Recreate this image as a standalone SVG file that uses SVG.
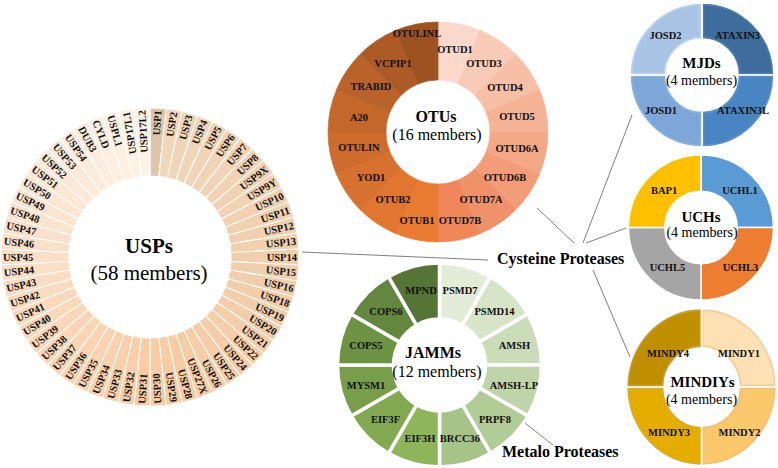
<svg xmlns="http://www.w3.org/2000/svg" xmlns:xlink="http://www.w3.org/1999/xlink" width="778" height="468" viewBox="0 0 778 468">
<style>
.lb{font-family:"Liberation Serif","Times New Roman",serif;font-weight:bold;font-size:10.5px;fill:#111}
.ur{text-anchor:end;dominant-baseline:central}
.ul{text-anchor:start;dominant-baseline:central}
.c{text-anchor:middle;dominant-baseline:central}
.tt{font-family:"Liberation Serif","Times New Roman",serif;font-weight:bold;fill:#000;text-anchor:middle}
.ts{font-family:"Liberation Serif","Times New Roman",serif;fill:#000;text-anchor:middle}
.pl{font-family:"Liberation Serif","Times New Roman",serif;font-weight:bold;font-size:16px;fill:#000}
.cn{stroke:#7f7f7f;stroke-width:1;fill:none}
.uw{stroke:#fff;stroke-width:1}
.jw{stroke:#fff;stroke-width:3.5}
.qw{stroke:#fff;stroke-width:1.5}
</style>
<defs>
<path id="uwd" d="M150,108 A149,149 0 0 1 166.11,108.873 L158.758,176.475 A81,81 0 0 0 150,176 Z"/>
<path id="owd" d="M0,-110 A110,110 0 0 1 42.095,-101.627 L19.899,-48.042 A52,52 0 0 0 0,-52 Z"/>
<path id="jwd" d="M0,-102 A102,102 0 0 1 51,-88.335 L23,-39.837 A46,46 0 0 0 0,-46 Z"/>
<path id="qo" d="M0,-72 A72,72 0 0 1 72,0 L36,0 A36,36 0 0 0 0,-36 Z"/>
<path id="qi" d="M2.2,-69.6 A69.6,69.6 0 0 1 69.6,-2.2 L38.6,-2.2 A38.6,38.6 0 0 0 2.2,-38.6 Z"/>
</defs>

<g id="connectors">
<line class="cn" x1="302" y1="252" x2="488" y2="260"/>
<line class="cn" x1="537" y1="208" x2="574" y2="243"/>
<line class="cn" x1="583" y1="243" x2="632" y2="115"/>
<line class="cn" x1="586" y1="243" x2="626" y2="228"/>
<line class="cn" x1="593" y1="270" x2="630" y2="357"/>
<line class="cn" x1="525" y1="423" x2="553" y2="445"/>
</g>

<g id="usps">
<g class="uw">
<use xlink:href="#uwd" fill="#dcc5a8"/>
<use xlink:href="#uwd" fill="#f1d6ba" transform="rotate(6.207 150 257)"/>
<use xlink:href="#uwd" fill="#f1d5b9" transform="rotate(12.414 150 257)"/>
<use xlink:href="#uwd" fill="#f1d5b8" transform="rotate(18.621 150 257)"/>
<use xlink:href="#uwd" fill="#f1d4b7" transform="rotate(24.828 150 257)"/>
<use xlink:href="#uwd" fill="#f1d4b6" transform="rotate(31.034 150 257)"/>
<use xlink:href="#uwd" fill="#f1d3b5" transform="rotate(37.241 150 257)"/>
<use xlink:href="#uwd" fill="#f1d3b4" transform="rotate(43.448 150 257)"/>
<use xlink:href="#uwd" fill="#f1d2b3" transform="rotate(49.655 150 257)"/>
<use xlink:href="#uwd" fill="#f1d2b2" transform="rotate(55.862 150 257)"/>
<use xlink:href="#uwd" fill="#f1d1b1" transform="rotate(62.069 150 257)"/>
<use xlink:href="#uwd" fill="#f1d1b0" transform="rotate(68.276 150 257)"/>
<use xlink:href="#uwd" fill="#f1d0af" transform="rotate(74.483 150 257)"/>
<use xlink:href="#uwd" fill="#f1d0ae" transform="rotate(80.690 150 257)"/>
<use xlink:href="#uwd" fill="#f1cfad" transform="rotate(86.897 150 257)"/>
<use xlink:href="#uwd" fill="#f2cfac" transform="rotate(93.103 150 257)"/>
<use xlink:href="#uwd" fill="#f2cfac" transform="rotate(99.310 150 257)"/>
<use xlink:href="#uwd" fill="#f3ceab" transform="rotate(105.517 150 257)"/>
<use xlink:href="#uwd" fill="#f3ceaa" transform="rotate(111.724 150 257)"/>
<use xlink:href="#uwd" fill="#f4ceaa" transform="rotate(117.931 150 257)"/>
<use xlink:href="#uwd" fill="#f4cea9" transform="rotate(124.138 150 257)"/>
<use xlink:href="#uwd" fill="#f5cea9" transform="rotate(130.345 150 257)"/>
<use xlink:href="#uwd" fill="#f5cda8" transform="rotate(136.552 150 257)"/>
<use xlink:href="#uwd" fill="#f6cda7" transform="rotate(142.759 150 257)"/>
<use xlink:href="#uwd" fill="#f6cda7" transform="rotate(148.966 150 257)"/>
<use xlink:href="#uwd" fill="#f7cda6" transform="rotate(155.172 150 257)"/>
<use xlink:href="#uwd" fill="#f7cca5" transform="rotate(161.379 150 257)"/>
<use xlink:href="#uwd" fill="#f8cca5" transform="rotate(167.586 150 257)"/>
<use xlink:href="#uwd" fill="#f8cca4" transform="rotate(173.793 150 257)"/>
<use xlink:href="#uwd" fill="#f8cda6" transform="rotate(180 150 257)"/>
<use xlink:href="#uwd" fill="#f8cfa9" transform="rotate(186.207 150 257)"/>
<use xlink:href="#uwd" fill="#f9d0ab" transform="rotate(192.414 150 257)"/>
<use xlink:href="#uwd" fill="#f9d1ad" transform="rotate(198.621 150 257)"/>
<use xlink:href="#uwd" fill="#f9d2b0" transform="rotate(204.828 150 257)"/>
<use xlink:href="#uwd" fill="#f9d4b2" transform="rotate(211.034 150 257)"/>
<use xlink:href="#uwd" fill="#f9d5b4" transform="rotate(217.241 150 257)"/>
<use xlink:href="#uwd" fill="#fad6b7" transform="rotate(223.448 150 257)"/>
<use xlink:href="#uwd" fill="#fad7b9" transform="rotate(229.655 150 257)"/>
<use xlink:href="#uwd" fill="#fad9bb" transform="rotate(235.862 150 257)"/>
<use xlink:href="#uwd" fill="#fadabd" transform="rotate(242.069 150 257)"/>
<use xlink:href="#uwd" fill="#fadbc0" transform="rotate(248.276 150 257)"/>
<use xlink:href="#uwd" fill="#fadcc2" transform="rotate(254.483 150 257)"/>
<use xlink:href="#uwd" fill="#fbdec4" transform="rotate(260.690 150 257)"/>
<use xlink:href="#uwd" fill="#fbdfc7" transform="rotate(266.897 150 257)"/>
<use xlink:href="#uwd" fill="#fbe0c9" transform="rotate(273.103 150 257)"/>
<use xlink:href="#uwd" fill="#fbe1cb" transform="rotate(279.310 150 257)"/>
<use xlink:href="#uwd" fill="#fbe3cd" transform="rotate(285.517 150 257)"/>
<use xlink:href="#uwd" fill="#fbe4d0" transform="rotate(291.724 150 257)"/>
<use xlink:href="#uwd" fill="#fce6d2" transform="rotate(297.931 150 257)"/>
<use xlink:href="#uwd" fill="#fce7d4" transform="rotate(304.138 150 257)"/>
<use xlink:href="#uwd" fill="#fce8d6" transform="rotate(310.345 150 257)"/>
<use xlink:href="#uwd" fill="#fcead8" transform="rotate(316.552 150 257)"/>
<use xlink:href="#uwd" fill="#fcebdb" transform="rotate(322.759 150 257)"/>
<use xlink:href="#uwd" fill="#fcecdd" transform="rotate(328.966 150 257)"/>
<use xlink:href="#uwd" fill="#fdeedf" transform="rotate(335.172 150 257)"/>
<use xlink:href="#uwd" fill="#fdefe1" transform="rotate(341.379 150 257)"/>
<use xlink:href="#uwd" fill="#fdf1e4" transform="rotate(347.586 150 257)"/>
<use xlink:href="#uwd" fill="#fdf2e6" transform="rotate(353.793 150 257)"/>
</g>
<g class="lb">
<text class="ur" x="297" y="257" transform="rotate(-86.90 150 257)">USP1</text>
<text class="ur" x="297" y="257" transform="rotate(-80.69 150 257)">USP2</text>
<text class="ur" x="297" y="257" transform="rotate(-74.48 150 257)">USP3</text>
<text class="ur" x="297" y="257" transform="rotate(-68.28 150 257)">USP4</text>
<text class="ur" x="297" y="257" transform="rotate(-62.07 150 257)">USP5</text>
<text class="ur" x="297" y="257" transform="rotate(-55.86 150 257)">USP6</text>
<text class="ur" x="297" y="257" transform="rotate(-49.66 150 257)">USP7</text>
<text class="ur" x="297" y="257" transform="rotate(-43.45 150 257)">USP8</text>
<text class="ur" x="297" y="257" transform="rotate(-37.24 150 257)">USP9X</text>
<text class="ur" x="297" y="257" transform="rotate(-31.03 150 257)">USP9Y</text>
<text class="ur" x="297" y="257" transform="rotate(-24.83 150 257)">USP10</text>
<text class="ur" x="297" y="257" transform="rotate(-18.62 150 257)">USP11</text>
<text class="ur" x="297" y="257" transform="rotate(-12.41 150 257)">USP12</text>
<text class="ur" x="297" y="257" transform="rotate(-6.21 150 257)">USP13</text>
<text class="ur" x="297" y="257">USP14</text>
<text class="ur" x="297" y="257" transform="rotate(6.21 150 257)">USP15</text>
<text class="ur" x="297" y="257" transform="rotate(12.41 150 257)">USP16</text>
<text class="ur" x="297" y="257" transform="rotate(18.62 150 257)">USP18</text>
<text class="ur" x="297" y="257" transform="rotate(24.83 150 257)">USP19</text>
<text class="ur" x="297" y="257" transform="rotate(31.03 150 257)">USP20</text>
<text class="ur" x="297" y="257" transform="rotate(37.24 150 257)">USP21</text>
<text class="ur" x="297" y="257" transform="rotate(43.45 150 257)">USP22</text>
<text class="ur" x="297" y="257" transform="rotate(49.66 150 257)">USP24</text>
<text class="ur" x="297" y="257" transform="rotate(55.86 150 257)">USP25</text>
<text class="ur" x="297" y="257" transform="rotate(62.07 150 257)">USP26</text>
<text class="ur" x="297" y="257" transform="rotate(68.28 150 257)">USP27X</text>
<text class="ur" x="297" y="257" transform="rotate(74.48 150 257)">USP28</text>
<text class="ur" x="297" y="257" transform="rotate(80.69 150 257)">USP29</text>
<text class="ul" x="3" y="257" transform="rotate(-93.10 150 257)">USP30</text>
<text class="ul" x="3" y="257" transform="rotate(-86.90 150 257)">USP31</text>
<text class="ul" x="3" y="257" transform="rotate(-80.69 150 257)">USP32</text>
<text class="ul" x="3" y="257" transform="rotate(-74.48 150 257)">USP33</text>
<text class="ul" x="3" y="257" transform="rotate(-68.28 150 257)">USP34</text>
<text class="ul" x="3" y="257" transform="rotate(-62.07 150 257)">USP35</text>
<text class="ul" x="3" y="257" transform="rotate(-55.86 150 257)">USP36</text>
<text class="ul" x="3" y="257" transform="rotate(-49.66 150 257)">USP37</text>
<text class="ul" x="3" y="257" transform="rotate(-43.45 150 257)">USP38</text>
<text class="ul" x="3" y="257" transform="rotate(-37.24 150 257)">USP39</text>
<text class="ul" x="3" y="257" transform="rotate(-31.03 150 257)">USP40</text>
<text class="ul" x="3" y="257" transform="rotate(-24.83 150 257)">USP41</text>
<text class="ul" x="3" y="257" transform="rotate(-18.62 150 257)">USP42</text>
<text class="ul" x="3" y="257" transform="rotate(-12.41 150 257)">USP43</text>
<text class="ul" x="3" y="257" transform="rotate(-6.21 150 257)">USP44</text>
<text class="ul" x="3" y="257">USP45</text>
<text class="ul" x="3" y="257" transform="rotate(6.21 150 257)">USP46</text>
<text class="ul" x="3" y="257" transform="rotate(12.41 150 257)">USP47</text>
<text class="ul" x="3" y="257" transform="rotate(18.62 150 257)">USP48</text>
<text class="ul" x="3" y="257" transform="rotate(24.83 150 257)">USP49</text>
<text class="ul" x="3" y="257" transform="rotate(31.03 150 257)">USP50</text>
<text class="ul" x="3" y="257" transform="rotate(37.24 150 257)">USP51</text>
<text class="ul" x="3" y="257" transform="rotate(43.45 150 257)">USP52</text>
<text class="ul" x="3" y="257" transform="rotate(49.66 150 257)">USP53</text>
<text class="ul" x="3" y="257" transform="rotate(55.86 150 257)">USP54</text>
<text class="ul" x="3" y="257" transform="rotate(62.07 150 257)">DUB3</text>
<text class="ul" x="3" y="257" transform="rotate(68.28 150 257)">CYLD</text>
<text class="ul" x="3" y="257" transform="rotate(74.48 150 257)">USPL1</text>
<text class="ur" x="297" y="257" transform="rotate(-99.31 150 257)">USP17L1</text>
<text class="ur" x="297" y="257" transform="rotate(-93.10 150 257)">USP17L2</text>
</g>
<text class="tt" x="149" y="253" font-size="21">USPs</text>
<text class="ts" x="149" y="280" font-size="21">(58 members)</text>
</g>

<g id="otus">
<g transform="translate(438,132)" stroke-width="0.6">
<use xlink:href="#owd" fill="#fad8cb" stroke="#fad8cb"/>
<use xlink:href="#owd" fill="#f8cbb8" stroke="#f8cbb8" transform="rotate(22.5)"/>
<use xlink:href="#owd" fill="#f6bfa6" stroke="#f6bfa6" transform="rotate(45)"/>
<use xlink:href="#owd" fill="#f5b396" stroke="#f5b396" transform="rotate(67.5)"/>
<use xlink:href="#owd" fill="#f3a886" stroke="#f3a886" transform="rotate(90)"/>
<use xlink:href="#owd" fill="#f29d77" stroke="#f29d77" transform="rotate(112.5)"/>
<use xlink:href="#owd" fill="#f09269" stroke="#f09269" transform="rotate(135)"/>
<use xlink:href="#owd" fill="#ef875b" stroke="#ef875b" transform="rotate(157.5)"/>
<use xlink:href="#owd" fill="#e97b33" stroke="#e97b33" transform="rotate(180)"/>
<use xlink:href="#owd" fill="#e17631" stroke="#e17631" transform="rotate(202.5)"/>
<use xlink:href="#owd" fill="#d7712f" stroke="#d7712f" transform="rotate(225)"/>
<use xlink:href="#owd" fill="#cd6c2d" stroke="#cd6c2d" transform="rotate(247.5)"/>
<use xlink:href="#owd" fill="#c3672b" stroke="#c3672b" transform="rotate(270)"/>
<use xlink:href="#owd" fill="#b96229" stroke="#b96229" transform="rotate(292.5)"/>
<use xlink:href="#owd" fill="#ad5b26" stroke="#ad5b26" transform="rotate(315)"/>
<use xlink:href="#owd" fill="#9d5222" stroke="#9d5222" transform="rotate(337.5)"/>
</g>
<g class="lb c">
<text x="455" y="49">OTUD1</text>
<text x="484" y="63">OTUD3</text>
<text x="505" y="87">OTUD4</text>
<text x="517" y="116">OTUD5</text>
<text x="517" y="148">OTUD6A</text>
<text x="505" y="177">OTUD6B</text>
<text x="481" y="199">OTUD7A</text>
<text x="460" y="220">OTUD7B</text>
<text x="417" y="220">OTUB1</text>
<text x="393" y="199">OTUB2</text>
<text x="371" y="177">YOD1</text>
<text x="359" y="147">OTULIN</text>
<text x="359" y="117">A20</text>
<text x="371" y="86">TRABID</text>
<text x="393" y="63">VCPIP1</text>
<text x="417" y="33">OTULINL</text>
</g>
<text class="tt" x="436" y="122" font-size="16">OTUs</text>
<text class="ts" x="437" y="140" font-size="16">(16 members)</text>
</g>

<g id="jamms">
<g transform="translate(439.5,365)" class="jw">
<use xlink:href="#jwd" fill="#e3ecd8"/>
<use xlink:href="#jwd" fill="#d7e4c8" transform="rotate(30)"/>
<use xlink:href="#jwd" fill="#cbdcb8" transform="rotate(60)"/>
<use xlink:href="#jwd" fill="#bfd4a8" transform="rotate(90)"/>
<use xlink:href="#jwd" fill="#b2cc98" transform="rotate(120)"/>
<use xlink:href="#jwd" fill="#a6c488" transform="rotate(150)"/>
<use xlink:href="#jwd" fill="#8fb55a" transform="rotate(180)"/>
<use xlink:href="#jwd" fill="#82a951" transform="rotate(210)"/>
<use xlink:href="#jwd" fill="#789e4b" transform="rotate(240)"/>
<use xlink:href="#jwd" fill="#6e9345" transform="rotate(270)"/>
<use xlink:href="#jwd" fill="#64873f" transform="rotate(300)"/>
<use xlink:href="#jwd" fill="#557536" transform="rotate(330)"/>
</g>
<g class="lb c">
<text x="460" y="290">PSMD7</text>
<text x="494.5" y="311">PSMD14</text>
<text x="514.5" y="345">AMSH</text>
<text x="514" y="385">AMSH-LP</text>
<text x="495" y="419">PRPF8</text>
<text x="460" y="438">BRCC36</text>
<text x="420" y="438">EIF3H</text>
<text x="385.5" y="419">EIF3F</text>
<text x="366" y="385">MYSM1</text>
<text x="366" y="345">COPS5</text>
<text x="386" y="311">COPS6</text>
<text x="421" y="290">MPND</text>
</g>
<text class="tt" x="433" y="358" font-size="16">JAMMs</text>
<text class="ts" x="437" y="377" font-size="16">(12 members)</text>
</g>

<g id="mjds">
<g transform="translate(702,75)">
<g class="qw">
<use xlink:href="#qo" fill="#4e7cab"/>
<use xlink:href="#qo" fill="#5a91cb" transform="rotate(90)"/>
<use xlink:href="#qo" fill="#8cb3de" transform="rotate(180)"/>
<use xlink:href="#qo" fill="#bcd1ed" transform="rotate(270)"/>
</g>
<use xlink:href="#qi" fill="#3e6d9d"/>
<use xlink:href="#qi" fill="#4a85c3" transform="rotate(90)"/>
<use xlink:href="#qi" fill="#7ca7d8" transform="rotate(180)"/>
<use xlink:href="#qi" fill="#aac4e6" transform="rotate(270)"/>
</g>
<g class="lb c">
<text x="665.5" y="35">JOSD2</text>
<text x="737.5" y="35">ATAXIN3</text>
<text x="661" y="110">JOSD1</text>
<text x="743" y="110">ATAXIN3L</text>
</g>
<text class="tt" x="701.5" y="68" font-size="15">MJDs</text>
<text class="ts" x="701.5" y="85" font-size="14">(4 members)</text>
</g>

<g id="uchs">
<g transform="translate(701,227.5) scale(1.007)" class="qw">
<use xlink:href="#qo" fill="#5b9bd5"/>
<use xlink:href="#qo" fill="#ed7d31" transform="rotate(90)"/>
<use xlink:href="#qo" fill="#a5a5a5" transform="rotate(180)"/>
<use xlink:href="#qo" fill="#ffc000" transform="rotate(270)"/>
</g>
<g class="lb c">
<text x="664" y="190">BAP1</text>
<text x="740" y="190">UCHL1</text>
<text x="667.5" y="267">UCHL5</text>
<text x="740.5" y="267">UCHL3</text>
</g>
<text class="tt" x="701" y="222" font-size="15">UCHs</text>
<text class="ts" x="702" y="237" font-size="14">(4 members)</text>
</g>

<g id="mindiys">
<g transform="translate(701.5,387) scale(1.04,1.09)">
<g class="qw">
<use xlink:href="#qo" fill="#f1cf9c"/>
<use xlink:href="#qo" fill="#f2c274" transform="rotate(90)"/>
<use xlink:href="#qo" fill="#dbab26" transform="rotate(180)"/>
<use xlink:href="#qo" fill="#c99b2a" transform="rotate(270)"/>
</g>
<use xlink:href="#qi" fill="#fde1b5"/>
<use xlink:href="#qi" fill="#fbc86c" transform="rotate(90)"/>
<use xlink:href="#qi" fill="#e5ad00" transform="rotate(180)"/>
<use xlink:href="#qi" fill="#bf8f00" transform="rotate(270)"/>
</g>
<g class="lb c">
<text x="668" y="353">MINDY4</text>
<text x="739" y="353">MINDY1</text>
<text x="669" y="432">MINDY3</text>
<text x="739.5" y="432">MINDY2</text>
</g>
<text class="tt" x="702.5" y="387" font-size="15">MINDIYs</text>
<text class="ts" x="701.5" y="404" font-size="14">(4 members)</text>
</g>

<g id="cysteine">
<text class="pl" x="497" y="264">Cysteine Proteases</text>
</g>
<g id="metalo">
<text class="pl" x="502" y="457">Metalo Proteases</text>
</g>
</svg>
